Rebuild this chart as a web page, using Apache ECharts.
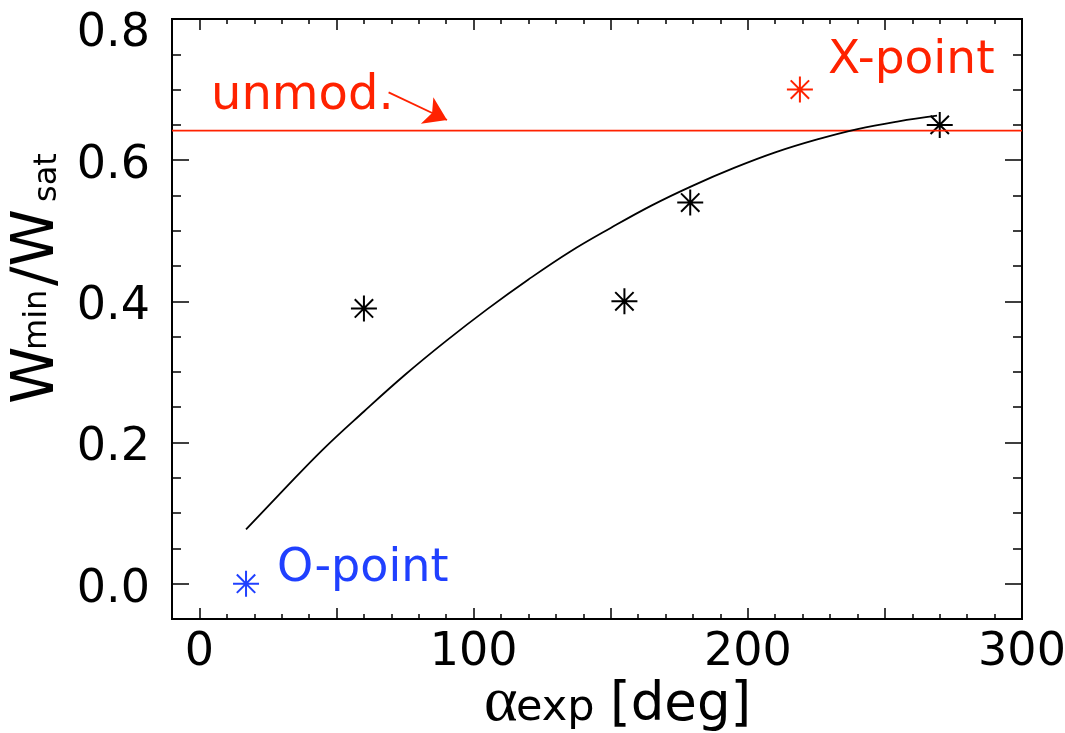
<!DOCTYPE html>
<html>
<head>
<meta charset="utf-8">
<script src="https://cdn.jsdelivr.net/npm/echarts@6/dist/echarts.min.js"></script>
<style>
  html, body { margin: 0; padding: 0; background: #ffffff; }
  #chart { width: 1065px; height: 733px; }
</style>
</head>
<body>
<div id="chart"></div>
<script>
// Measured minimum island widths (alpha_exp in deg, W_min / W_sat)
const measuredAlpha = [60, 155, 179, 270];
const measuredRatio = [0.39, 0.40, 0.54, 0.65];

// X-point and O-point phases
const xPointAlpha = [219];
const xPointRatio = [0.70];
const oPointAlpha = [17];
const oPointRatio = [0.0];

// Fitted trend through the measurements
const fitAlpha = [17, 30, 45, 60, 75, 90, 105, 120, 135, 150, 165, 180, 195, 210, 225, 240, 255, 269];
const fitRatio = [0.077, 0.130, 0.190, 0.244, 0.296, 0.344, 0.389, 0.431, 0.470, 0.504, 0.536, 0.564,
                  0.589, 0.611, 0.629, 0.644, 0.655, 0.663];

// Unmodulated reference level
const unmodRatio = 0.642;

// Axis ticks and labels
const xMajorTicks = [0, 50, 100, 150, 200, 250, 300];
const xLabelTicks = [0, 100, 200, 300];
const yMajorTicks = [0, 0.2, 0.4, 0.6, 0.8];

const RED = '#ff2200';
const BLUE = '#2040ff';
const FONT = 'DejaVu Sans';

// Eight-armed asterisk marker
const ASTERISK = 'path://M0,-10L0,10M-10,0L10,0M-7.07,-7.07L7.07,7.07M-7.07,7.07L7.07,-7.07';

const pairs = (xs, ys) => xs.map((x, i) => [x, ys[i]]);

const tickStyle = { color: '#000', width: 1.5 };

function xAxisPair(position) {
  const base = { type: 'value', min: -10, max: 300, position: position, splitLine: { show: false } };
  return [
    Object.assign({}, base, {
      interval: 10,
      axisLine: { show: false, onZero: false },
      axisTick: { show: true, inside: true, length: 5, lineStyle: tickStyle },
      axisLabel: { show: false }
    }),
    Object.assign({}, base, {
      axisLine: { show: false, onZero: false },
      axisTick: { show: true, inside: true, length: 11, lineStyle: tickStyle, customValues: xMajorTicks },
      axisLabel: position === 'bottom'
        ? { show: true, customValues: xLabelTicks, fontSize: 46, fontFamily: FONT, color: '#000', margin: 11 }
        : { show: false }
    })
  ];
}

function yAxisPair(position) {
  const base = { type: 'value', min: -0.05, max: 0.8, position: position, splitLine: { show: false } };
  return [
    Object.assign({}, base, {
      interval: 0.05,
      axisLine: { show: false, onZero: false },
      axisTick: { show: true, inside: true, length: 9, lineStyle: tickStyle },
      axisLabel: { show: false }
    }),
    Object.assign({}, base, {
      axisLine: { show: false, onZero: false },
      axisTick: { show: true, inside: true, length: 17, lineStyle: tickStyle, customValues: yMajorTicks },
      axisLabel: position === 'left'
        ? {
            show: true, customValues: yMajorTicks, color: '#000',
            margin: 22, verticalAlign: 'middle',
            // the top label sits a little lower than the others
            formatter: v => (v >= 0.79 ? '{top|' : '{n|') + v.toFixed(1) + '}',
            rich: {
              n: { fontSize: 46, fontFamily: FONT, color: '#000', padding: [12, 0, 0, 0] },
              top: { fontSize: 46, fontFamily: FONT, color: '#000', padding: [30, 0, 0, 0] }
            }
          }
        : { show: false }
    })
  ];
}

const chart = echarts.init(document.getElementById('chart'), null, { renderer: 'canvas' });

chart.setOption({
  animation: false,
  backgroundColor: '#ffffff',
  grid: {
    left: 172, right: 43, top: 19, bottom: 114,
    show: true, borderColor: '#000', borderWidth: 2, backgroundColor: 'transparent',
    containLabel: false, outerBoundsMode: 'none'
  },
  xAxis: [].concat(xAxisPair('bottom'), xAxisPair('top')),
  yAxis: [].concat(yAxisPair('left'), yAxisPair('right')),
  series: [
    {
      name: 'unmod.',
      type: 'line',
      data: [[-10, unmodRatio], [300, unmodRatio]],
      showSymbol: false,
      silent: true,
      lineStyle: { color: RED, width: 1.8 },
      markLine: {
        silent: true,
        symbol: ['none', 'arrow'],
        symbolSize: 22,
        label: { show: false },
        lineStyle: { color: RED, width: 1.8, type: 'solid', opacity: 1 },
        itemStyle: { color: RED },
        data: [[{ coord: [69, 0.696] }, { coord: [90.3, 0.657] }]]
      }
    },
    {
      name: 'fit',
      type: 'line',
      data: pairs(fitAlpha, fitRatio),
      smooth: 0.4,
      showSymbol: false,
      silent: true,
      lineStyle: { color: '#000', width: 1.8 }
    },
    {
      name: 'measured',
      type: 'scatter',
      data: pairs(measuredAlpha, measuredRatio),
      symbol: ASTERISK,
      symbolSize: 26,
      itemStyle: { color: '#000', borderColor: '#000', borderWidth: 2, opacity: 1 },
      silent: true
    },
    {
      name: 'X-point',
      type: 'scatter',
      data: pairs(xPointAlpha, xPointRatio),
      symbol: ASTERISK,
      symbolSize: 26,
      itemStyle: { color: RED, borderColor: RED, borderWidth: 2, opacity: 1 },
      label: {
        show: true, position: 'right', distance: 14, offset: [0, -29],
        formatter: 'X-point', fontSize: 47, fontFamily: FONT, color: RED, opacity: 1
      },
      silent: true
    },
    {
      name: 'O-point',
      type: 'scatter',
      data: pairs(oPointAlpha, oPointRatio),
      symbol: ASTERISK,
      symbolSize: 26,
      itemStyle: { color: BLUE, borderColor: BLUE, borderWidth: 2, opacity: 1 },
      label: {
        show: true, position: 'right', distance: 17, offset: [0, -15],
        formatter: 'O-point', fontSize: 46, fontFamily: FONT, color: BLUE, opacity: 1
      },
      silent: true
    }
  ],
  graphic: [
    // annotation for the unmodulated level
    { type: 'text', x: 211, y: 96.4, silent: true,
      style: { text: 'unmod.', fontSize: 48, fontFamily: FONT, fill: RED, align: 'left', verticalAlign: 'middle' } },
    // x axis title: alpha_exp [deg]
    { type: 'text', x: 484, y: 703, silent: true,
      style: { text: 'α', fontSize: 64, fontFamily: 'Liberation Serif', fill: '#000', align: 'left', verticalAlign: 'middle' } },
    { type: 'text', x: 516, y: 709, silent: true,
      style: { text: 'exp', fontSize: 43, fontFamily: FONT, fill: '#000', align: 'left', verticalAlign: 'middle' } },
    { type: 'text', x: 610, y: 706, silent: true,
      style: { text: '[deg]', fontSize: 53, fontFamily: FONT, fill: '#000', align: 'left', verticalAlign: 'middle' } },
    // y axis title: W_min / W_sat, reading bottom to top
    { type: 'text', x: 37.8, y: 404, rotation: Math.PI / 2, silent: true,
      style: { text: 'W', fontSize: 58, fontFamily: FONT, fill: '#000', align: 'left', verticalAlign: 'middle' } },
    { type: 'text', x: 37.5, y: 350, rotation: Math.PI / 2, silent: true,
      style: { text: 'min', fontSize: 32, fontFamily: FONT, fill: '#000', align: 'left', verticalAlign: 'middle' } },
    { type: 'text', x: 37.8, y: 286, rotation: Math.PI / 2, silent: true,
      style: { text: '/W', fontSize: 58, fontFamily: FONT, fill: '#000', align: 'left', verticalAlign: 'middle' } },
    { type: 'text', x: 47.5, y: 202, rotation: Math.PI / 2, silent: true,
      style: { text: 'sat', fontSize: 32, fontFamily: FONT, fill: '#000', align: 'left', verticalAlign: 'middle' } }
  ]
});
</script>
</body>
</html>
